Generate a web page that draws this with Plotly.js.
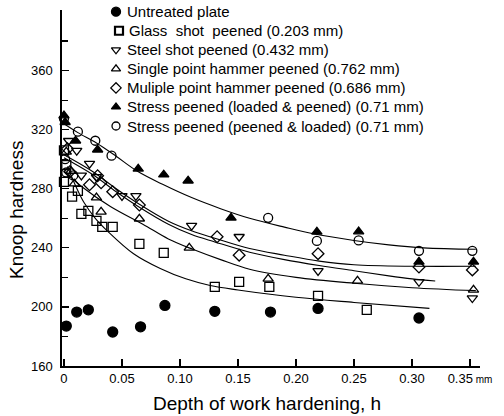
<!DOCTYPE html>
<html><head><meta charset="utf-8">
<script src="https://cdn.plot.ly/plotly-3.0.1.min.js"></script>
<style>html,body{margin:0;padding:0;background:#fff}#c{width:504px;height:416px}</style>
</head><body><div id="c"></div>
<script>
// ---- data ----
var seriesNames = [
  "Untreated plate",
  "Glass  shot  peened (0.203 mm)",
  "Steel shot peened (0.432 mm)",
  "Single point hammer peened (0.762 mm)",
  "Muliple point hammer peened (0.686 mm)",
  "Stress peened (loaded &amp; peened) (0.71 mm)",
  "Stress peened (peened &amp; loaded) (0.71 mm)"
];
var untreatedX = [0.002,0.011,0.021,0.042,0.066,0.087,0.130,0.178,0.219,0.306];
var untreatedY = [187,196.5,198,183,186.5,201,197,196.5,199,192.5];

var glassX = [0.000,0.002,0.000,0.007,0.012,0.015,0.021,0.028,0.033,0.042,0.065,0.086,0.130,0.151,0.177,0.219,0.261];
var glassY = [306,296,284.7,274.6,278.6,263,265,258.3,254.2,254.2,242.7,236.6,213.5,217,213.5,207.5,198];

var steelX = [0.004,0.011,0.015,0.022,0.028,0.050,0.062,0.110,0.151,0.219,0.306,0.352];
var steelY = [312.5,305.8,289,297,288,275.2,275.2,255,247.5,224.4,217,206];

var singleX = [0.002,0.006,0.009,0.028,0.032,0.065,0.108,0.176,0.253,0.353];
var singleY = [305,292,283.4,274,264.4,259.7,240,219,217.6,211.5];

var multiX = [0.003,0.005,0.022,0.029,0.032,0.042,0.065,0.132,0.151,0.219,0.306,0.352];
var multiY = [307,291.5,282.7,288.8,284,278,269,247.5,235,236,227,225];

var loadedPeenedX = [0.000,0.001,0.010,0.029,0.064,0.086,0.107,0.144,0.218,0.254,0.306,0.353];
var loadedPeenedY = [329.5,325,312.5,306.4,293.5,289.5,285.4,260.3,250.8,251,230.5,230.5];

var peenedLoadedX = [0.000,0.001,0.002,0.008,0.012,0.027,0.041,0.176,0.218,0.254,0.306,0.352];
var peenedLoadedY = [327.5,300,291,289,318.6,312.5,302.4,260.3,244.7,245,238,238];

// fitted curves as drawn in the picture
var curveTopX = [0,0.012,0.028,0.045,0.063,0.085,0.11,0.135,0.16,0.19,0.215,0.25,0.28,0.31,0.355];
var curveTopY = [324,318,311,302,292,283,274,266.5,260,254,249.5,245,242,240,239];
var curveMultiX = [0,0.025,0.045,0.065,0.09,0.11,0.13,0.16,0.19,0.22,0.25,0.3,0.355];
var curveMultiY = [303,291.5,280,269.5,258,251.5,246.5,239.5,235,231,228.5,227.5,227.5];
var curveSteelX = [0,0.025,0.045,0.065,0.09,0.11,0.13,0.16,0.19,0.22,0.25,0.28,0.3,0.32];
var curveSteelY = [301,289.5,278,267.5,256,249,244,237,232,228,224.5,221,219,217.5];
var curveSingleX = [0,0.016,0.04,0.068,0.09,0.111,0.135,0.16,0.2,0.25,0.3,0.355];
var curveSingleY = [292,281,268,256,246,239,232,225.5,220,216,213,211];
var curveGlassX = [0.003,0.01,0.017,0.027,0.038,0.06,0.083,0.105,0.126,0.15,0.2,0.25,0.315];
var curveGlassY = [295,282,271,260,251,236,226,219,214.5,211.5,206.5,203,199];

var xTickVals = [0,0.05,0.10,0.15,0.20,0.25,0.30,0.35];
var xTickText = ["0","0.05","0.10","0.15","0.20","0.25","0.30","0.35<span style='font-size:10px'> mm</span>"];
var yTickVals = [160,200,240,280,320,360];
var yMinorVals = [180,220,260,300,340,380];
var xTitle = 'Depth of work hardening, h';
var yTitle = 'Knoop hardness';

// ---- build ----
var mk = function(sym, sz){ return {symbol: sym, size: sz, color: '#000', line: {color: '#000', width: 1.3}}; };
var pts = [
  [untreatedX, untreatedY, 'circle', 10],
  [glassX, glassY, 'square-open', 9],
  [steelX, steelY, 'triangle-down-open', 9],
  [singleX, singleY, 'triangle-up-open', 9],
  [multiX, multiY, 'diamond-open', 9],
  [loadedPeenedX, loadedPeenedY, 'triangle-up', 9],
  [peenedLoadedX, peenedLoadedY, 'circle-open', 9]
];
var curves = [
  [curveTopX, curveTopY], [curveMultiX, curveMultiY], [curveSteelX, curveSteelY],
  [curveSingleX, curveSingleY], [curveGlassX, curveGlassY]
];
var data = [];
curves.forEach(function(c){
  data.push({x: c[0], y: c[1], mode: 'lines', line: {color: '#000', width: 1.1, shape: 'spline', smoothing: 1}, showlegend: false, hoverinfo: 'skip'});
});
pts.forEach(function(p, i){
  data.push({x: p[0], y: p[1], mode: 'markers', name: seriesNames[i], marker: mk(p[2], p[3]), cliponaxis: false, showlegend: false});
});

// hand-placed legend on a pixel-scaled overlay axis pair (plot area: x 62..480, y 10..366)
var L = 62, R = 480, T = 10, B = 366;
var legX = 116, legTextX = 125, legTop = 11.7, legStep = 19.05;
var annotations = [];
pts.forEach(function(p, i){
  var yy = legTop + i * legStep;
  var sz = (i === 0) ? 9 : 8;
  data.push({x: [legX + (i === 1 ? 3 : 0)], y: [yy], xaxis: 'x2', yaxis: 'y2', mode: 'markers', showlegend: false,
    marker: {symbol: p[2], size: sz, color: '#000', line: {color: '#000', width: (i === 1 ? 2.2 : 1.3)}}, cliponaxis: false});
  annotations.push({xref: 'x2', yref: 'y2', x: legTextX + (i === 1 ? 2 : 0), y: yy, xanchor: 'left', yanchor: 'middle',
    text: seriesNames[i], showarrow: false, font: {size: 15}});
});
annotations.push({xref: 'paper', yref: 'paper', x: (267 - L) / (R - L), y: (B - 403) / (B - T), xanchor: 'center', yanchor: 'middle',
  text: xTitle, showarrow: false, font: {size: 19}});
annotations.push({xref: 'paper', yref: 'paper', x: (16 - L) / (R - L), y: (B - 210) / (B - T), xanchor: 'center', yanchor: 'middle',
  text: yTitle, textangle: -90, showarrow: false, font: {size: 19}});

var font = 'Liberation Sans, Arial, sans-serif';
var layout = {
  width: 504, height: 416,
  margin: {l: L, r: 504 - R, t: T, b: 416 - B},
  paper_bgcolor: '#fff', plot_bgcolor: '#fff',
  font: {family: font, color: '#000', size: 13},
  showlegend: false,
  annotations: annotations,
  xaxis: {
    range: [-0.0017, 0.3586], showgrid: false, zeroline: false,
    showline: true, linecolor: '#000', linewidth: 1.6,
    ticks: 'inside', ticklen: 7, tickwidth: 1.3, tickcolor: '#000',
    tickvals: xTickVals, ticktext: xTickText, tickfont: {size: 13}
  },
  yaxis: {
    range: [160, 401], showgrid: false, zeroline: false,
    showline: true, linecolor: '#000', linewidth: 1.6,
    ticks: 'inside', ticklen: 7, tickwidth: 1.3, tickcolor: '#000',
    tickvals: yTickVals, tickfont: {size: 13}, ticklabelstandoff: 5,
    minor: {tickvals: yMinorVals, ticks: 'inside', ticklen: 6, tickwidth: 1.2, tickcolor: '#000', showgrid: false}
  },
  xaxis2: {overlaying: 'x', anchor: 'y2', range: [L, R], visible: false, fixedrange: true},
  yaxis2: {overlaying: 'y', anchor: 'x2', range: [B, T], visible: false, fixedrange: true}
};
Plotly.newPlot('c', data, layout, {staticPlot: true});
</script></body></html>
